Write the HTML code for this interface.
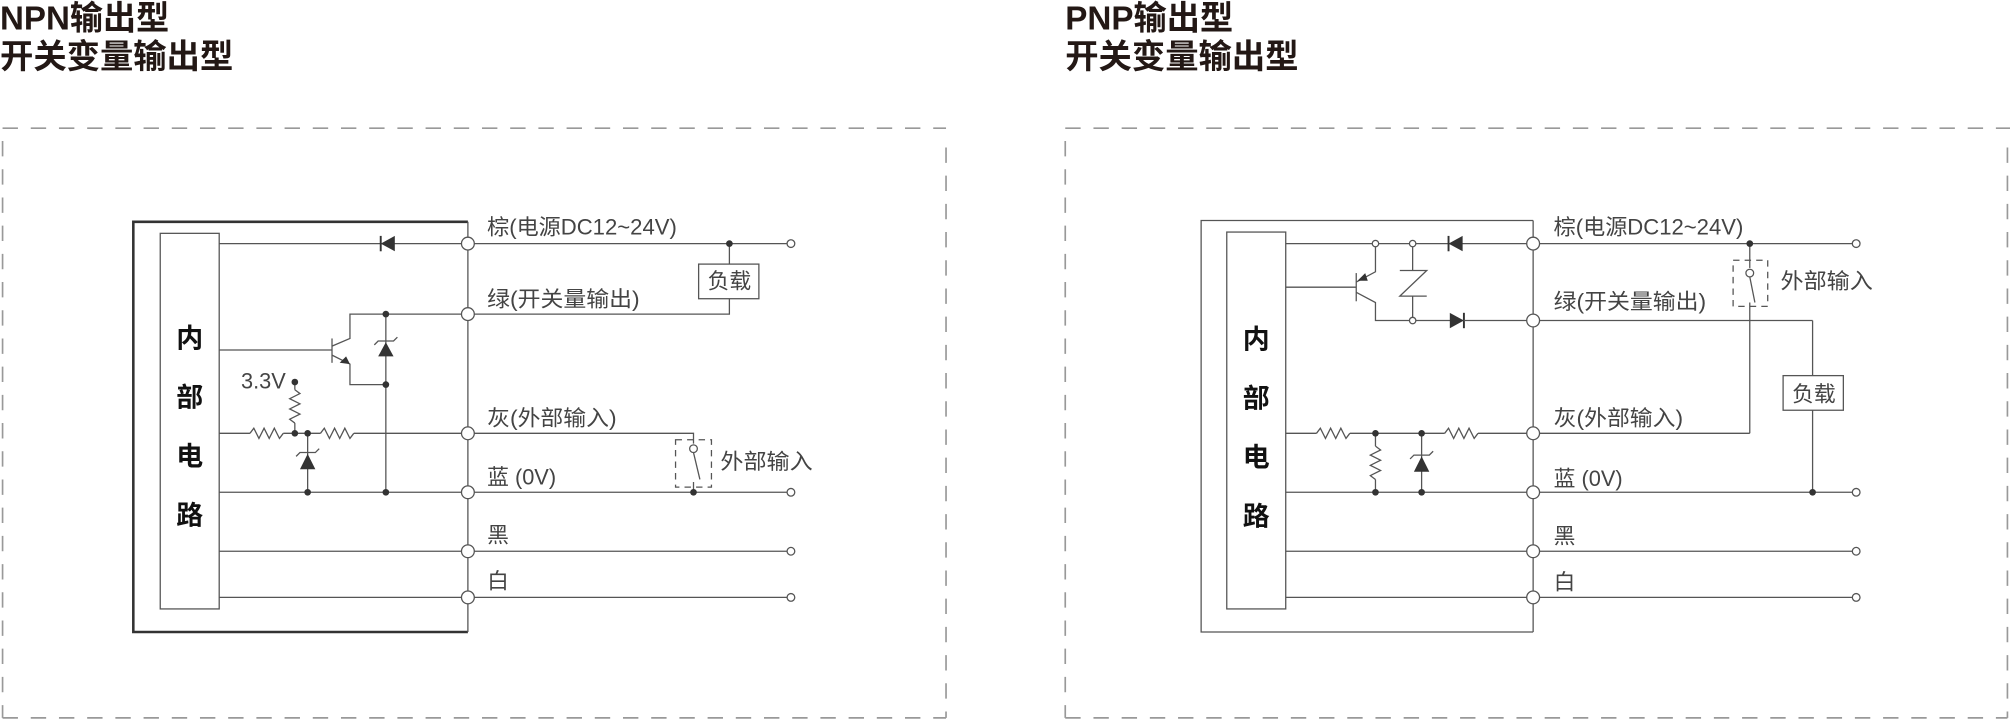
<!DOCTYPE html>
<html><head><meta charset="utf-8"><style>
html,body{margin:0;padding:0;background:#fff;}
svg{display:block}
text{font-family:"Liberation Sans","Noto Sans CJK SC",sans-serif;fill:#333}
.t{font-size:26px;font-weight:bold;fill:#231815}
.l{font-size:17px;fill:#444}
.b{font-size:21px;font-weight:bold;fill:#111;text-anchor:middle}
</style></head><body>
<svg width="2010" height="721" viewBox="0 0 1568 562.4" xmlns="http://www.w3.org/2000/svg">
<defs>
<symbol id="zz" overflow="visible"><polyline points="0,0 3,-4 7,4 11,-4 15,4 19,-4 23,4 26,0" fill="none" stroke="#555" stroke-width="1"/></symbol>
</defs>
<g fill="none" stroke="#999" stroke-width="1.3" stroke-dasharray="12,10">
<line x1="2" y1="100" x2="738" y2="100"/><line x1="2" y1="110" x2="2" y2="560"/>
<line x1="738" y1="115" x2="738" y2="560"/><line x1="2" y1="560" x2="738" y2="560"/>
<line x1="831" y1="100" x2="1568" y2="100"/><line x1="831" y1="110" x2="831" y2="560"/>
<line x1="1566" y1="115" x2="1566" y2="560"/><line x1="831" y1="560" x2="1566" y2="560"/>
</g>
<text class="t" x="0" y="23" textLength="132" lengthAdjust="spacingAndGlyphs">NPN输出型</text>
<text class="t" x="0" y="53" textLength="182" lengthAdjust="spacingAndGlyphs">开关变量输出型</text>
<text class="t" x="831" y="23" textLength="131" lengthAdjust="spacingAndGlyphs">PNP输出型</text>
<text class="t" x="831" y="53" textLength="182" lengthAdjust="spacingAndGlyphs">开关变量输出型</text>

<!-- LEFT NPN -->
<g stroke="#555" stroke-width="1" fill="none">
<polyline points="365,173 104,173 104,493 365,493" stroke="#333" stroke-width="2"/>
<line x1="365" y1="173" x2="365" y2="493"/>
<rect x="125" y="182" width="46" height="293"/>
<line x1="171" y1="190" x2="617" y2="190"/>
<line x1="297" y1="184" x2="297" y2="196" stroke="#333" stroke-width="1.5"/>
<line x1="569" y1="190" x2="569" y2="206"/><rect x="545" y="206" width="47" height="27"/>
<polyline points="569,233 569,245 273,245 273,264 259,270"/>
<line x1="171" y1="273" x2="259" y2="273"/><line x1="259" y1="264" x2="259" y2="283"/>
<polyline points="259,277 273,284 273,300 301,300"/>
<line x1="301" y1="245" x2="301" y2="384"/>
<line x1="171" y1="338" x2="195" y2="338"/><line x1="221" y1="338" x2="250" y2="338"/>
<polyline points="276,338 541,338 541,346"/>
<line x1="230" y1="298" x2="230" y2="304"/><line x1="230" y1="330" x2="230" y2="338"/>
<line x1="240" y1="338" x2="240" y2="384"/>
<line x1="171" y1="384" x2="617" y2="384"/>
<line x1="171" y1="430" x2="617" y2="430"/><line x1="171" y1="466" x2="617" y2="466"/>
<line x1="541" y1="353" x2="546" y2="374"/><line x1="541" y1="376" x2="541" y2="384"/>
<rect x="527" y="343" width="28" height="37" stroke-dasharray="5,4"/>
<polyline points="292,269 295,266 307,266 310,263"/>
<polyline points="231,356 234,353 246,353 249,350"/>
</g>
<use href="#zz" x="195" y="338"/><use href="#zz" x="250" y="338"/>
<use href="#zz" x="230" y="304" transform="rotate(90 230 304)"/>
<g fill="#333">
<polygon points="297,190 308,184 308,196"/>
<polygon points="301,267 295,278 307,278"/>
<polygon points="240,354 234,366 246,366"/>
<polygon points="273,284 265,283 270,278"/>
<circle cx="569" cy="190" r="2.6"/><circle cx="301" cy="245" r="2.6"/><circle cx="301" cy="300" r="2.6"/>
<circle cx="230" cy="298" r="2.6"/><circle cx="230" cy="338" r="2.6"/><circle cx="240" cy="338" r="2.6"/>
<circle cx="240" cy="384" r="2.6"/><circle cx="301" cy="384" r="2.6"/><circle cx="541" cy="384" r="2.6"/>
</g>
<g fill="#fff" stroke="#555" stroke-width="1">
<circle cx="365" cy="190" r="5"/><circle cx="365" cy="245" r="5"/><circle cx="365" cy="338" r="5"/>
<circle cx="365" cy="384" r="5"/><circle cx="365" cy="430" r="5"/><circle cx="365" cy="466" r="5"/>
<circle cx="617" cy="190" r="3"/><circle cx="617" cy="384" r="3"/><circle cx="617" cy="430" r="3"/><circle cx="617" cy="466" r="3"/>
<circle cx="541" cy="350" r="3"/>
</g>
<text class="b" x="148" y="271">内</text><text class="b" x="148" y="317">部</text>
<text class="b" x="148" y="363">电</text><text class="b" x="148" y="409">路</text>
<text class="l" x="380" y="183" textLength="148" lengthAdjust="spacingAndGlyphs">棕(电源DC12~24V)</text>
<text class="l" x="380" y="239" textLength="119" lengthAdjust="spacingAndGlyphs">绿(开关量输出)</text>
<text class="l" x="380" y="332" textLength="101" lengthAdjust="spacingAndGlyphs">灰(外部输入)</text>
<text class="l" x="380" y="378">蓝 (0V)</text>
<text class="l" x="380" y="423">黑</text>
<text class="l" x="380" y="459">白</text>
<text class="l" x="188" y="303">3.3V</text>
<text class="l" x="552" y="225">负载</text>
<text class="l" x="562" y="366" textLength="72" lengthAdjust="spacingAndGlyphs">外部输入</text>

<!-- RIGHT PNP -->
<g stroke="#555" stroke-width="1" fill="none">
<polyline points="1196,172 937,172 937,493 1196,493"/>
<line x1="1196" y1="172" x2="1196" y2="493"/>
<rect x="957" y="181" width="46" height="294"/>
<line x1="1003" y1="190" x2="1448" y2="190"/>
<line x1="1130" y1="184" x2="1130" y2="196" stroke="#333" stroke-width="1.5"/>
<line x1="1142" y1="244" x2="1142" y2="256" stroke="#333" stroke-width="1.5"/>
<line x1="1003" y1="224" x2="1058" y2="224"/><line x1="1058" y1="213" x2="1058" y2="235"/>
<polyline points="1058,220 1073,212 1073,190"/>
<polyline points="1058,228 1073,236 1073,250 1196,250"/>
<line x1="1102" y1="190" x2="1102" y2="211"/><line x1="1102" y1="231" x2="1102" y2="250"/>
<polyline points="1092,211 1113,211 1092,231 1113,231"/>
<line x1="1196" y1="250" x2="1414" y2="250"/><line x1="1414" y1="250" x2="1414" y2="293"/>
<rect x="1391" y="293" width="47" height="27"/><line x1="1414" y1="320" x2="1414" y2="384"/>
<line x1="1365" y1="190" x2="1365" y2="209"/><line x1="1365" y1="216" x2="1369" y2="236"/>
<line x1="1365" y1="236" x2="1365" y2="338"/><line x1="1196" y1="338" x2="1365" y2="338"/>
<rect x="1352" y="203" width="27" height="36" stroke-dasharray="5,4"/>
<line x1="1003" y1="338" x2="1027" y2="338"/><line x1="1053" y1="338" x2="1127" y2="338"/>
<line x1="1153" y1="338" x2="1196" y2="338"/>
<line x1="1073" y1="338" x2="1073" y2="348"/><line x1="1073" y1="374" x2="1073" y2="384"/>
<line x1="1109" y1="338" x2="1109" y2="384"/>
<polyline points="1100,358 1103,355 1115,355 1118,352"/>
<line x1="1003" y1="384" x2="1448" y2="384"/>
<line x1="1003" y1="430" x2="1448" y2="430"/><line x1="1003" y1="466" x2="1448" y2="466"/>
</g>
<use href="#zz" x="1027" y="338"/><use href="#zz" x="1127" y="338"/>
<use href="#zz" x="1073" y="348" transform="rotate(90 1073 348)"/>
<g fill="#333">
<polygon points="1130,190 1141,184 1141,196"/>
<polygon points="1142,250 1131,244 1131,256"/>
<polygon points="1109,356 1103,368 1115,368"/>
<polygon points="1059,219 1065,213 1067,219"/>
<circle cx="1365" cy="190" r="2.6"/><circle cx="1073" cy="338" r="2.6"/><circle cx="1109" cy="338" r="2.6"/>
<circle cx="1073" cy="384" r="2.6"/><circle cx="1109" cy="384" r="2.6"/><circle cx="1414" cy="384" r="2.6"/>
</g>
<g fill="#fff" stroke="#555" stroke-width="1">
<circle cx="1196" cy="190" r="5"/><circle cx="1196" cy="250" r="5"/><circle cx="1196" cy="338" r="5"/>
<circle cx="1196" cy="384" r="5"/><circle cx="1196" cy="430" r="5"/><circle cx="1196" cy="466" r="5"/>
<circle cx="1448" cy="190" r="3"/><circle cx="1448" cy="384" r="3"/><circle cx="1448" cy="430" r="3"/><circle cx="1448" cy="466" r="3"/>
<circle cx="1073" cy="190" r="2.5"/><circle cx="1102" cy="190" r="2.5"/><circle cx="1102" cy="250" r="2.5"/>
<circle cx="1365" cy="213" r="3"/>
</g>
<text class="b" x="980" y="272">内</text><text class="b" x="980" y="318">部</text>
<text class="b" x="980" y="364">电</text><text class="b" x="980" y="410">路</text>
<text class="l" x="1212" y="183" textLength="148" lengthAdjust="spacingAndGlyphs">棕(电源DC12~24V)</text>
<text class="l" x="1212" y="241" textLength="119" lengthAdjust="spacingAndGlyphs">绿(开关量输出)</text>
<text class="l" x="1212" y="332" textLength="101" lengthAdjust="spacingAndGlyphs">灰(外部输入)</text>
<text class="l" x="1212" y="379">蓝 (0V)</text>
<text class="l" x="1212" y="424">黑</text>
<text class="l" x="1212" y="460">白</text>
<text class="l" x="1398" y="313">负载</text>
<text class="l" x="1389" y="225" textLength="72" lengthAdjust="spacingAndGlyphs">外部输入</text>
</svg>
</body></html>
